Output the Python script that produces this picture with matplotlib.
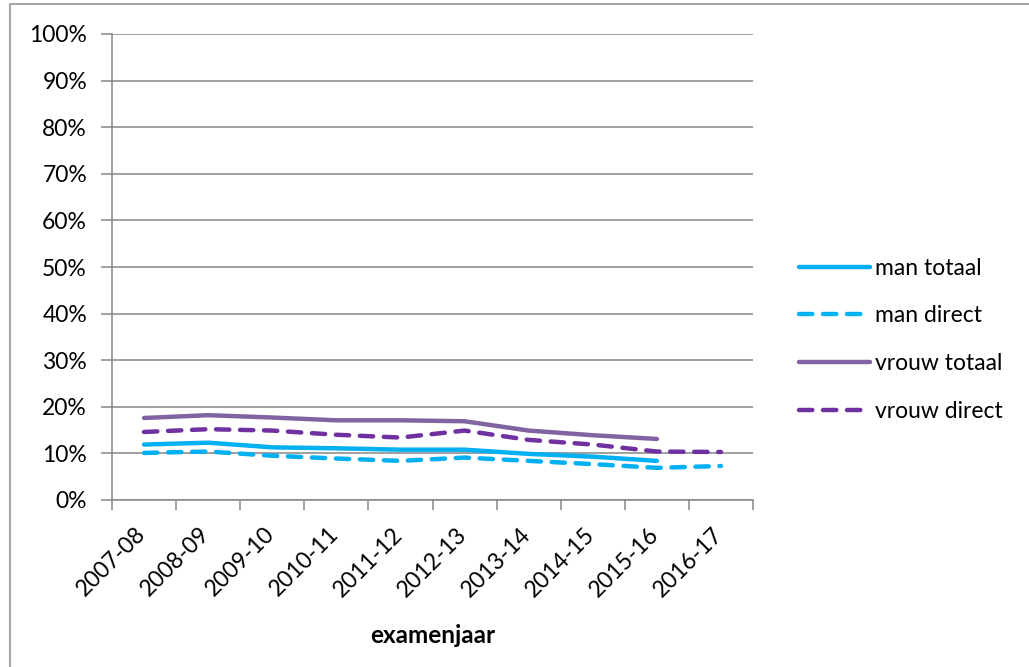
import numpy as np
import matplotlib
matplotlib.use('Agg')
import matplotlib.pyplot as plt
import matplotlib.transforms as mtransforms
from matplotlib.lines import Line2D
from matplotlib.ticker import FixedLocator, PercentFormatter

###############################################################################
# Data
###############################################################################
jaren = ['2007-08', '2008-09', '2009-10', '2010-11', '2011-12',
         '2012-13', '2013-14', '2014-15', '2015-16', '2016-17']

man_totaal = [11.9, 12.3, 11.3, 11.1, 10.8, 10.8, 9.9, 9.3, 8.4, np.nan]
man_direct = [10.1, 10.4, 9.5, 8.9, 8.4, 9.1, 8.4, 7.7, 6.9, 7.3]
vrouw_totaal = [17.6, 18.2, 17.7, 17.1, 17.1, 16.9, 14.9, 13.9, 13.1, np.nan]
vrouw_direct = [14.6, 15.2, 14.9, 14.0, 13.4, 14.9, 12.9, 11.9, 10.4, 10.3]

###############################################################################
# Figure
###############################################################################
plt.rcParams['font.family'] = ['Lato', 'DejaVu Sans']

fig = plt.figure(figsize=(10.29, 6.67), dpi=100)
ax = fig.add_axes([112 / 1029, 1 - 500 / 667, 641 / 1029, 466 / 667])

x = np.arange(len(jaren))
lw = 3.2
dash = (3, 2.4)

ax.plot(x, man_totaal, color='#00B0F0', lw=lw, solid_capstyle='round',
        label='man totaal')
ax.plot(x, man_direct, color='#00B0F0', lw=lw, dashes=dash,
        dash_capstyle='round', label='man direct')
ax.plot(x, vrouw_totaal, color='#8064A2', lw=lw, solid_capstyle='round',
        label='vrouw totaal')
ax.plot(x, vrouw_direct, color='#7030A0', lw=lw, dashes=dash,
        dash_capstyle='round', label='vrouw direct')

ax.set_xlim(-0.5, len(jaren) - 0.5)
ax.set_ylim(0, 100)

grid_c = '#868686'
ax.set_yticks(np.arange(0, 101, 10))
ax.yaxis.set_major_formatter(PercentFormatter(decimals=0))
ax.yaxis.grid(True, color=grid_c, lw=1.1)
ax.set_axisbelow(True)

ax.set_xticks(x)
ax.set_xticklabels(jaren, rotation=45, ha='right', rotation_mode='anchor')
ax.xaxis.set_minor_locator(FixedLocator(np.arange(-0.5, len(jaren), 1)))

ax.tick_params(axis='x', which='major', length=0, labelsize=16.5, pad=14)
ax.tick_params(axis='x', which='minor', length=7, width=1.1, color=grid_c)
ax.tick_params(axis='y', length=8, width=1.1, color=grid_c, labelsize=16.5,
               pad=10)

# labels iets naar links/onder schuiven, zoals in Excel
offset = mtransforms.ScaledTranslation(-9 / 100, -4 / 100, fig.dpi_scale_trans)
for lab in ax.get_xticklabels():
    lab.set_transform(lab.get_transform() + offset)

for s in ['top', 'right']:
    ax.spines[s].set_visible(False)
for s in ['left', 'bottom']:
    ax.spines[s].set_color(grid_c)
    ax.spines[s].set_linewidth(1.1)

ax.set_xlabel('examenjaar', fontsize=17.5, fontweight='bold', labelpad=17)

leg = fig.legend(loc='upper left', bbox_to_anchor=(778 / 1029, 1 - 237 / 667),
                 frameon=False, fontsize=16.5, handlelength=3.1,
                 handletextpad=0.25, labelspacing=1.17)

# kader om de grafiek
fig.add_artist(Line2D([10 / 1029, 10 / 1029, 1], [0, 1 - 4 / 667, 1 - 4 / 667],
                      transform=fig.transFigure, color='#A6A6A6', lw=1.5))

fig.savefig('out.png', dpi=100)
